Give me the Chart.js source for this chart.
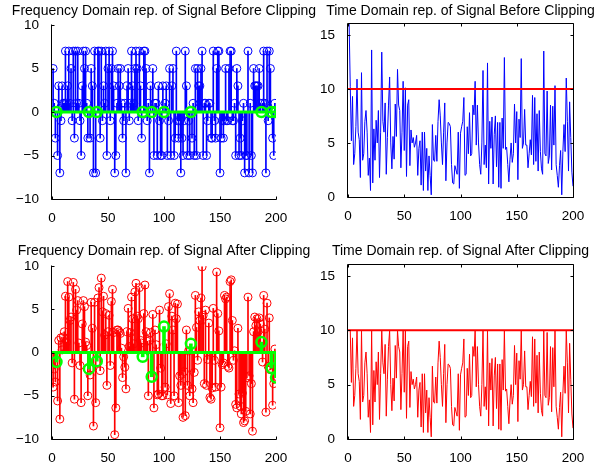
<!DOCTYPE html>
<html><head><meta charset="utf-8">
<script src="https://cdn.jsdelivr.net/npm/chart.js@4.4.0/dist/chart.umd.min.js"></script>
<style>
html,body{margin:0;padding:0;background:#fff;}
#wrap{position:relative;width:595px;height:464px;overflow:hidden;background:#fff;}
canvas{position:absolute;left:0;top:0;}
</style></head><body>
<div id="wrap">
<canvas id="c1" width="595" height="464"></canvas>
<canvas id="c2" width="595" height="464"></canvas>
<canvas id="c3" width="595" height="464"></canvas>
<canvas id="c4" width="595" height="464"></canvas>
</div>
<script>
// ---------------- data ----------------
const titleFreqBefore = 'Frequency Domain rep. of Signal Before Clipping';
const titleTimeBefore = 'Time Domain rep. of Signal Before Clipping';
const titleFreqAfter = 'Frequency Domain rep. of Signal After Clipping';
const titleTimeAfter = 'Time Domain rep. of Signal After Clipping';

const xTicks = [0, 50, 100, 150, 200];
const freqTicks = [-10, -5, 0, 5, 10];
const timeTicks = [0, 5, 10, 15];

const nullIdx = [4, 33, 40, 81, 89, 100, 124, 187, 196, 200];
const nullBefore = [0, 0, 0, 0, 0, 0, 0, 0, 0, 0];
const nullAfter = [-1.1, -1.9, -1.0, -0.5, -2.8, 3.0, 1.0, 1.2, -1.8, -2.9];

const freqBefore = [
 5, 1, -3, null, -5, 3, -7, -1, 3, 1,
 1, 7, 1, 3, 7, 1, 5, -1, 7, -3,
 7, 1, 7, 1, -1, -5, 3, 7, 5, 7,
 1, -3, null, -3, 5, 3, -7, 7, -7, null,
 7, 7, -3, 7, -1, 3, 1, 7, -5, 5,
 7, -1, 5, 7, 3, -7, -5, 1, 5, 3,
 5, 1, -3, -1, 1, -7, 3, 5, -1, 1,
 7, 3, 1, 5, 7, 5, -1, 7, 3, -3,
 null, 7, 7, 5, -1, 1, -7, 3, null, 5,
 -5, 1, 1, -5, 3, -1, -5, -5, 3, null,
 1, 3, -5, -1, 5, -5, 3, 5, -5, -3,
 7, -1, -3, -1, -7, -3, -5, -1, 7, 3,
 -5, -1, -5, null, -3, 1, -5, 5, -5, 5,
 3, 3, 5, 7, -5, 1, 1, -5, -1, 1,
 1, -3, -3, 7, -1, -3, 5, 7, 7, -7,
 -3, -1, -3, -1, 5, -1, -1, 5, 7, 7,
 -1, -1, 1, -5, 5, 3, -5, -3, -5, -1,
 1, -7, -5, -5, 7, -7, 1, -5, -7, 5,
 3, 3, 3, 3, 5, 1, null, 1, 7, 1,
 -7, 7, -1, 7, 5, null, -3, -5, 1, null
];

const freqAfter = [
 -4.0, -1.9, -3.4, null, -5.6, 1.4, -7.7, 1.7, 0.3, 1.8,
 2.4, 6.5, 1.2, 8.2, 6.4, 3.7, 4.1, -1.2, 8.1, -5.4,
 7.3, 4.9, 6.0, 1.1, -1.5, -5.8, 3.3, 6.0, 5.3, 1.2,
 0.8, -5.0, null, -2.6, 5.8, 2.8, -8.5, 5.8, -5.8, null,
 6.3, 7.5, -2.1, 8.6, 4.7, 6.5, 2.0, 4.5, -3.8, 2.4,
 4.3, -1.5, 5.9, 7.3, 2.3, -9.5, -6.4, 2.6, 2.6, 2.4,
 2.2, 0.5, -2.9, -0.5, -1.7, -4.2, 2.4, 5.1, 0.7, 2.3,
 6.4, 3.9, 1.0, 7.0, 8.0, 4.2, 3.9, 7.5, 1.4, 1.1,
 null, 4.5, 7.8, 2.4, 1.3, -5.0, 1.4, 2.3, null, 4.4,
 -6.4, 2.6, 0.9, -4.9, -4.8, 4.9, -1.8, -5.0, -5.0, null,
 -4.0, 1.0, -4.9, 5.3, 6.8, -5.9, 4.2, 2.6, -5.0, 5.7,
 3.9, 5.6, -5.8, -2.7, -3.8, -2.5, -7.5, -2.2, -7.3, 2.6,
 -3.8, 0.2, -5.0, null, -4.2, -5.8, -2.3, 6.6, 2.9, -0.9,
 4.7, 3.7, 6.3, 9.9, 4.3, -3.6, 4.9, -3.8, -0.8, 3.4,
 -5.2, -5.4, -4.1, 5.1, -0.9, -4.0, 9.3, 4.5, 2.5, -8.7,
 -4.0, -1.4, -1.2, 6.6, 6.2, 6.4, -1.6, -1.8, 8.2, 8.4,
 3.7, -0.9, 0.2, -6.0, -6.4, 2.8, -4.8, -6.2, -7.1, -4.7,
 -8.1, -7.9, -6.8, -2.9, 6.4, -2.7, -7.1, -3.6, -9.1, 2.4,
 4.1, 3.1, 3.9, 2.4, 4.0, 3.3, null, -1.1, 6.6, 2.7,
 -6.9, 5.7, -1.6, 4.0, -2.0, null, -6.1, -3.6, 0.4, null
];

const timeBefore = [
 16.0, 10.2, 5.2, 9.3, 3.0, 4.0, 6.5, 10.9, 6.0, 5.3,
 1.8, 11.5, 3.4, 4.0, 7.0, 8.0, 6.0, 2.0, 3.6, 0.6,
 13.6, 1.3, 6.3, 3.4, 7.1, 5.0, 8.0, 1.8, 6.0, 13.4,
 7.0, 6.0, 8.7, 2.1, 5.5, 8.5, 11.1, 5.0, 2.6, 5.6,
 3.5, 8.6, 5.6, 11.8, 8.5, 8.0, 2.7, 6.0, 10.7, 4.3,
 10.1, 1.9, 8.5, 9.0, 2.9, 6.2, 5.0, 5.5, 4.6, 5.0,
 5.7, 2.0, 4.5, 5.2, 1.1, 6.0, 0.6, 6.0, 2.4, 4.5,
 0.6, 3.8, 2.0, 0.2, 6.7, 3.4, 3.3, 5.7, 3.3, 7.0,
 9.0, 7.5, 5.0, 3.0, 6.0, 8.7, 1.5, 5.0, 6.9, 6.8,
 6.5, 3.0, 1.3, 1.2, 2.9, 2.5, 2.1, 6.0, 0.8, 5.9,
 6.5, 7.0, 9.2, 2.0, 2.1, 6.5, 4.0, 7.8, 3.8, 4.0,
 8.5, 7.6, 10.7, 4.8, 8.5, 5.0, 3.0, 2.1, 5.0, 11.7,
 3.0, 4.8, 2.7, 12.4, 1.2, 7.0, 4.5, 7.4, 1.2, 5.8,
 7.5, 2.8, 6.9, 0.9, 6.9, 0.8, 7.3, 4.5, 12.9, 4.4,
 4.6, 3.0, 1.4, 3.5, 5.0, 3.2, 4.0, 8.6, 5.0, 7.9,
 1.6, 7.2, 5.5, 12.8, 4.5, 5.0, 8.1, 4.8, 4.8, 2.7,
 4.0, 5.3, 3.9, 9.4, 3.0, 9.2, 3.3, 7.7, 2.4, 8.0,
 4.2, 2.6, 2.1, 13.5, 4.0, 3.8, 9.8, 3.1, 3.8, 8.5,
 2.5, 8.4, 4.8, 10.3, 3.0, 2.0, 0.9, 2.9, 4.3, 0.2,
 4.2, 6.7, 4.2, 11.0, 7.0, 2.4, 8.8, 5.5, 2.3, 1.0
];

const timeAfter = [
 10, 10, 5.2, 9.3, 3.0, 4.0, 6.5, 10, 6.0, 5.3,
 1.8, 10, 3.4, 4.0, 7.0, 8.0, 6.0, 2.0, 3.6, 0.6,
 10, 1.3, 6.3, 3.4, 7.1, 5.0, 8.0, 1.8, 6.0, 10,
 7.0, 6.0, 8.7, 2.1, 5.5, 8.5, 10, 5.0, 2.6, 5.6,
 3.5, 8.6, 5.6, 10, 8.5, 8.0, 2.7, 6.0, 10, 4.3,
 10, 1.9, 8.5, 9.0, 2.9, 6.2, 5.0, 5.5, 4.6, 5.0,
 5.7, 2.0, 4.5, 5.2, 1.1, 6.0, 0.6, 6.0, 2.4, 4.5,
 0.6, 3.8, 2.0, 0.2, 6.7, 3.4, 3.3, 5.7, 3.3, 7.0,
 9.0, 7.5, 5.0, 3.0, 6.0, 8.7, 1.5, 5.0, 6.9, 6.8,
 6.5, 3.0, 1.3, 1.2, 2.9, 2.5, 2.1, 6.0, 0.8, 5.9,
 6.5, 7.0, 9.2, 2.0, 2.1, 6.5, 4.0, 7.8, 3.8, 4.0,
 8.5, 7.6, 10, 4.8, 8.5, 5.0, 3.0, 2.1, 5.0, 10,
 3.0, 4.8, 2.7, 10, 1.2, 7.0, 4.5, 7.4, 1.2, 5.8,
 7.5, 2.8, 6.9, 0.9, 6.9, 0.8, 7.3, 4.5, 10, 4.4,
 4.6, 3.0, 1.4, 3.5, 5.0, 3.2, 4.0, 8.6, 5.0, 7.9,
 1.6, 7.2, 5.5, 10, 4.5, 5.0, 8.1, 4.8, 4.8, 2.7,
 4.0, 5.3, 3.9, 9.4, 3.0, 9.2, 3.3, 7.7, 2.4, 8.0,
 4.2, 2.6, 2.1, 10, 4.0, 3.8, 9.8, 3.1, 3.8, 8.5,
 2.5, 8.4, 4.8, 10, 3.0, 2.0, 0.9, 2.9, 4.3, 0.2,
 4.2, 6.7, 4.2, 10, 7.0, 2.4, 8.8, 5.5, 2.3, 1.0
];

const clipX = [0, 200];
const clipLevel = [10, 10];
const baseX = [0, 200];
const baseY = [0, 0];

// ---------------- helpers ----------------
const BLUE = '#0000ff', RED = '#ff0000', GREEN = '#00ff00';
const FONT = '"Liberation Sans", Arial, Helvetica, sans-serif';
Chart.defaults.font.family = FONT;
Chart.defaults.color = '#000';

function pts(xs, ys) {
  const out = [];
  for (let k = 0; k < ys.length; k++) if (ys[k] !== null) out.push({x: xs[k], y: ys[k]});
  return out;
}
const sampleIdx = freqBefore.map((_, k) => k + 1);

const framePlugin = {
  id: 'mframe',
  afterDatasetsDraw(chart, args, o) {
    const {ctx, chartArea: a, scales} = chart;
    const L = a.left - 0.5, R = a.right + 0.5, T = a.top - 0.5, B = a.bottom + 0.5;
    ctx.save();
    ctx.strokeStyle = '#000'; ctx.lineWidth = 1;
    ctx.beginPath();
    ctx.moveTo(L, T); ctx.lineTo(L, B); ctx.lineTo(R, B);
    if (o.box) { ctx.lineTo(R, T); ctx.lineTo(L, T); }
    const tl = 3;
    scales.x.ticks.forEach(t => {
      const px = Math.round(scales.x.getPixelForValue(t.value)) + 0.5;
      ctx.moveTo(px, B); ctx.lineTo(px, B - tl);
      if (o.box) { ctx.moveTo(px, T); ctx.lineTo(px, T + tl); }
    });
    scales.y.ticks.forEach(t => {
      const py = Math.round(scales.y.getPixelForValue(t.value)) + 0.5;
      ctx.moveTo(L, py); ctx.lineTo(L + tl, py);
      if (o.box) { ctx.moveTo(R, py); ctx.lineTo(R - tl, py); }
    });
    ctx.stroke();
    ctx.restore();
  },
  afterDraw(chart, args, o) {
    const {ctx, chartArea: a} = chart;
    ctx.save();
    ctx.fillStyle = '#000';
    ctx.font = '14px ' + FONT;
    ctx.textAlign = 'center';
    ctx.textBaseline = 'alphabetic';
    ctx.fillText(o.text, (a.left + a.right) / 2, o.y);
    ctx.restore();
  }
};

function makeChart(id, area, yMin, yMax, yTicks, datasets, title, titleY, box) {
  return new Chart(document.getElementById(id), {
    type: 'scatter',
    data: {datasets},
    options: {
      responsive: false, animation: false, devicePixelRatio: 1,
      layout: {padding: {left: area.l - 52, top: area.t, right: 595 - area.r, bottom: 464 - area.b - 30}},
      plugins: {legend: {display: false}, tooltip: {enabled: false}, title: {display: false},
        mframe: {text: title, y: titleY, box}},
      scales: {
        x: {type: 'linear', min: 0, max: 200, offset: false,
          grid: {display: false, offset: false}, border: {display: false},
          afterBuildTicks: s => { s.ticks = xTicks.map(v => ({value: v})); },
          afterFit: s => { s.height = 30; },
          ticks: {padding: 3, font: {size: 13.5}, color: '#000', maxRotation: 0, autoSkip: false}},
        y: {type: 'linear', min: yMin, max: yMax,
          grid: {display: false}, border: {display: false},
          afterBuildTicks: s => { s.ticks = yTicks.map(v => ({value: v})); },
          afterFit: s => { s.width = 52; },
          ticks: {padding: 5, font: {size: 13.5}, color: '#000', autoSkip: false,
            callback: v => String(v).replace('-', '\u2212')}}
      }
    },
    plugins: [framePlugin]
  });
}

function stemSets(xs, ys, color, lw, r, plw, orderBase) {
  return [
    {type: 'scatter', data: pts(xs, ys), showLine: false, pointStyle: 'circle', pointRadius: r,
     pointBorderWidth: plw, pointBorderColor: color, pointBackgroundColor: 'rgba(0,0,0,0)',
     pointHoverRadius: r, order: orderBase},
    {type: 'bar', data: pts(xs, ys), backgroundColor: color, borderWidth: 0, barThickness: lw,
     grouped: false, order: orderBase + 1}
  ];
}
function lineSet(xs, ys, color, lw, order) {
  return {type: 'scatter', data: pts(xs, ys), showLine: true, borderColor: color, borderWidth: lw,
    pointRadius: 0, tension: 0, fill: false, order};
}

// top-left
makeChart('c1', {l: 52, t: 25, r: 276, b: 199}, -10, 10, freqTicks, [
  ...stemSets(nullIdx, nullBefore, GREEN, 3, 5, 2.5, 0),
  lineSet(baseX, baseY, GREEN, 3, 2),
  ...stemSets(sampleIdx, freqBefore, BLUE, 1, 4, 1, 3)
], titleFreqBefore, 15, false);

// top-right
makeChart('c2', {l: 348, t: 24, r: 573, b: 197}, 0, 16, timeTicks, [
  lineSet(clipX, clipLevel, RED, 2, 0),
  lineSet(sampleIdx, timeBefore, BLUE, 1, 1)
], titleTimeBefore, 15, true);

// bottom-left
makeChart('c3', {l: 52, t: 266, r: 276, b: 439}, -10, 10, freqTicks, [
  ...stemSets(nullIdx, nullAfter, GREEN, 3, 5, 2.5, 0),
  lineSet(baseX, baseY, GREEN, 3, 2),
  ...stemSets(sampleIdx, freqAfter, RED, 1, 4, 1, 3)
], titleFreqAfter, 255, false);

// bottom-right
makeChart('c4', {l: 348, t: 265, r: 573, b: 439}, 0, 16, timeTicks, [
  lineSet(clipX, clipLevel, RED, 2, 0),
  lineSet(sampleIdx, timeAfter, RED, 1, 1)
], titleTimeAfter, 255, true);
</script>
</body></html>
